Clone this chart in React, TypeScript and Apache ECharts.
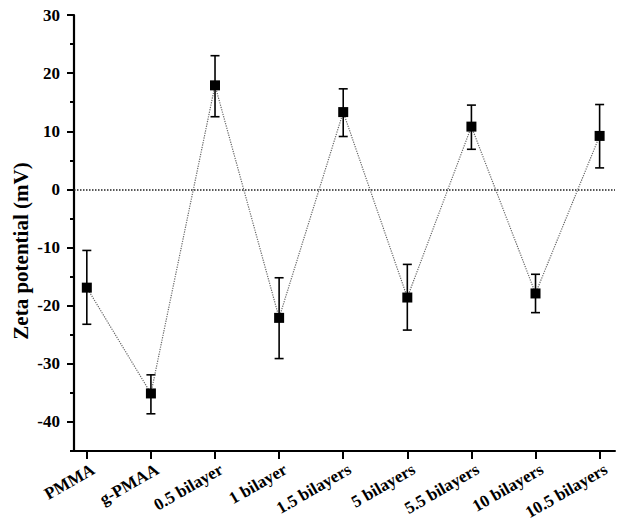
import React, { useEffect, useRef } from "react";
import * as echarts from "echarts";

const categories = [
  "PMMA",
  "g-PMAA",
  "0.5 bilayer",
  "1 bilayer",
  "1.5 bilayers",
  "5 bilayers",
  "5.5 bilayers",
  "10 bilayers",
  "10.5 bilayers",
];
const zetaValues = [-16.9, -35.1, 17.9, -22.1, 13.3, -18.6, 10.8, -17.9, 9.2];
const errLow = [-23.2, -38.6, 12.5, -29.1, 9.1, -24.2, 6.9, -21.2, 3.7];
const errHigh = [-10.5, -31.9, 23.0, -15.2, 17.3, -12.9, 14.5, -14.6, 14.6];
const yMajorTicks = [-40, -30, -20, -10, 0, 10, 20, 30];
const yTitle = "Zeta potential (mV)";

const FONT = "Liberation Serif";

export default function App() {
  const ref = useRef<HTMLDivElement>(null);
  useEffect(() => {
    document.body.style.margin = "0";
    const chart = echarts.init(ref.current!, null, { renderer: "svg" });
    const idx = categories.map((_, i) => i);
    const labelPos = idx.map((i) => i + 0.1);
    const option: any = {
      animation: false,
      backgroundColor: "#ffffff",
      grid: { left: 74, top: 15, right: 10, bottom: 80, containLabel: false },
      graphic: [
        {
          type: "text",
          x: 21,
          y: 251,
          rotation: Math.PI / 2,
          style: {
            text: yTitle,
            fontFamily: FONT,
            fontWeight: "bold",
            fontSize: 21,
            fill: "#000",
            align: "center",
            verticalAlign: "middle",
          },
        },
      ],
      xAxis: {
        type: "value",
        min: -0.2,
        max: 8.24,
        splitLine: { show: false },
        axisLine: { show: true, onZero: false, lineStyle: { color: "#000", width: 2 } },
        axisTick: {
          show: true,
          inside: false,
          length: 8,
          customValues: idx,
          lineStyle: { color: "#000", width: 2 },
        },
        axisLabel: {
          customValues: labelPos,
          rotate: 30,
          margin: 17,
          formatter: (v: number) => categories[Math.round(v)] ?? "",
          fontFamily: FONT,
          fontWeight: "bold",
          fontSize: 17,
          color: "#000",
        },
      },
      yAxis: [
        {
          type: "value",
          min: -45,
          max: 30,
          interval: 5,
          position: "left",
          splitLine: { show: false },
          axisLine: { show: true, onZero: false, lineStyle: { color: "#000", width: 2.2 } },
          axisTick: {
            show: true,
            length: 7,
            customValues: yMajorTicks,
            lineStyle: { color: "#000", width: 2 },
          },
          axisLabel: {
            customValues: yMajorTicks,
            margin: 14,
            fontFamily: FONT,
            fontWeight: "bold",
            fontSize: 17,
            color: "#000",
          },
        },
        {
          type: "value",
          min: -45,
          max: 30,
          interval: 5,
          position: "left",
          splitLine: { show: false },
          axisLine: { show: false, onZero: false },
          axisTick: {
            show: true,
            length: 4,
            lineStyle: { color: "#000", width: 2 },
          },
          axisLabel: { show: false },
        },
      ],
      series: [
        {
          type: "custom",
          name: "err",
          renderItem: (params: any, api: any) => {
            const x = api.value(0);
            const lo = api.coord([x, api.value(1)]);
            const hi = api.coord([x, api.value(2)]);
            const hw = 4.5;
            const style = { stroke: "#000", lineWidth: 1.6 };
            return {
              type: "group",
              children: [
                { type: "line", shape: { x1: lo[0], y1: lo[1], x2: hi[0], y2: hi[1] }, style },
                { type: "line", shape: { x1: lo[0] - hw, y1: lo[1], x2: lo[0] + hw, y2: lo[1] }, style },
                { type: "line", shape: { x1: hi[0] - hw, y1: hi[1], x2: hi[0] + hw, y2: hi[1] }, style },
              ],
            };
          },
          encode: { x: 0, y: [1, 2] },
          data: idx.map((i) => [i, errLow[i], errHigh[i]]),
          z: 2,
        },
        {
          type: "line",
          name: "zeta",
          data: idx.map((i) => [i, zetaValues[i]]),
          symbol: "rect",
          symbolSize: 10,
          itemStyle: { color: "#000" },
          lineStyle: { color: "#666", width: 1.2, type: "dotted" },
          z: 3,
          markLine: {
            silent: true,
            symbol: "none",
            label: { show: false },
            lineStyle: { color: "#222", width: 1.5, type: "dotted" },
            data: [{ yAxis: 0 }],
          },
        },
      ],
    };
    chart.setOption(option);
    return () => chart.dispose();
  }, []);
  return <div ref={ref} style={{ width: 625, height: 531 }} />;
}
